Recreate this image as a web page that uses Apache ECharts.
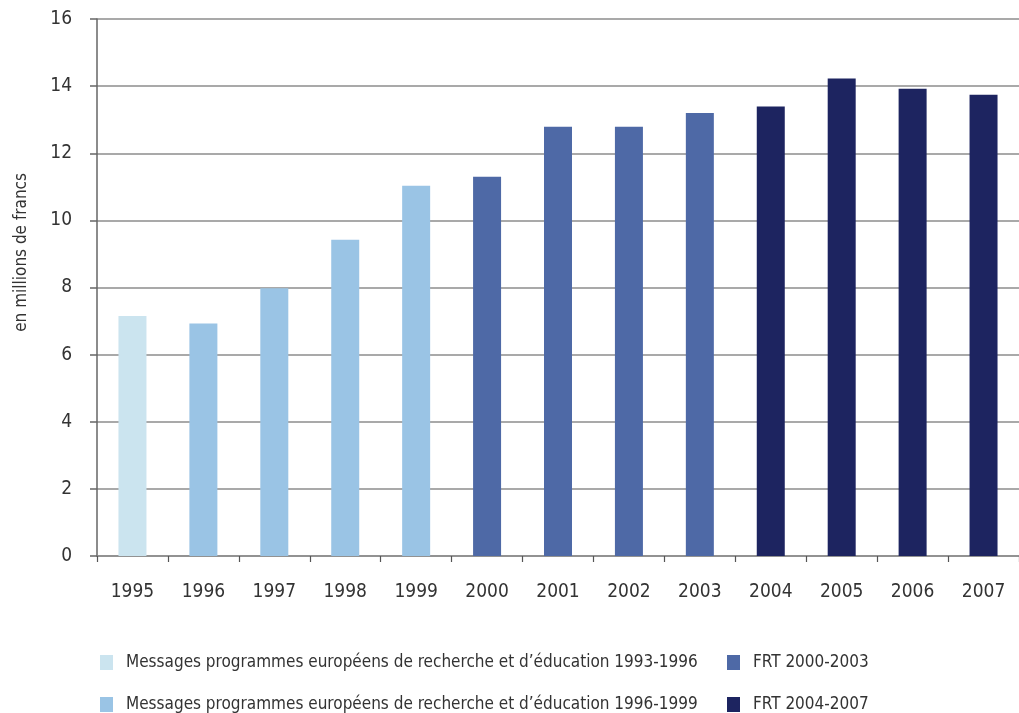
<!DOCTYPE html>
<html>
<head>
<meta charset="utf-8">
<script src="https://cdn.jsdelivr.net/npm/echarts@6/dist/echarts.min.js"></script>
<style>
  html, body { margin: 0; padding: 0; background: #ffffff; }
  #chart { width: 1019px; height: 713px; }
</style>
</head>
<body>
<div id="chart"></div>
<script>
// Years on the horizontal axis
const years = ['1995', '1996', '1997', '1998', '1999', '2000', '2001', '2002', '2003', '2004', '2005', '2006', '2007'];

// Funding in millions of francs, one series per programme period ('-' = no bar)
const msg9396 = [7.15, '-', '-', '-', '-', '-', '-', '-', '-', '-', '-', '-', '-'];
const msg9699 = ['-', 6.93, 7.98, 9.42, 11.03, '-', '-', '-', '-', '-', '-', '-', '-'];
const frt0003 = ['-', '-', '-', '-', '-', 11.3, 12.79, 12.79, 13.2, '-', '-', '-', '-'];
const frt0407 = ['-', '-', '-', '-', '-', '-', '-', '-', '-', 13.39, 14.23, 13.92, 13.74];

const seriesNames = [
  'Messages programmes européens de recherche et d\u2019éducation 1993-1996',
  'Messages programmes européens de recherche et d\u2019éducation 1996-1999',
  'FRT 2000-2003',
  'FRT 2004-2007'
];
const seriesColors = ['#cbe4ef', '#9ac4e5', '#4e69a6', '#1d2460'];
const seriesData = [msg9396, msg9699, frt0003, frt0407];

const FONT = '"Liberation Sans Narrow", "Arial Narrow", "DejaVu Sans Condensed", sans-serif';

// One single-entry legend per item, laid out as a 2 x 2 block under the plot
const legendSlots = [
  { left: 95, top: 649 },
  { left: 95, top: 691 },
  { left: 722, top: 649 },
  { left: 722, top: 691 }
];

const chart = echarts.init(document.getElementById('chart'), null, { renderer: 'canvas' });

chart.setOption({
  backgroundColor: '#ffffff',
  animation: false,
  textStyle: { fontFamily: FONT },
  grid: { left: 97, top: 19, width: 930, height: 537, containLabel: false },
  xAxis: {
    type: 'category',
    data: years,
    boundaryGap: true,
    axisLine: { lineStyle: { color: '#8a8a8a', width: 1.5 } },
    axisTick: { show: true, alignWithLabel: false, length: 6, lineStyle: { color: '#555', width: 1.2 } },
    axisLabel: { color: '#333', fontSize: 19, margin: 27, fontFamily: FONT }
  },
  yAxis: {
    type: 'value',
    min: 0,
    max: 16,
    interval: 2,
    axisLine: { show: true, lineStyle: { color: '#666', width: 1.5 } },
    axisTick: { show: true, length: 7, lineStyle: { color: '#666', width: 1.5 } },
    splitLine: { show: true, lineStyle: { color: '#8c8c8c', width: 1.5 } },
    axisLabel: { color: '#333', fontSize: 19, margin: 25, fontFamily: FONT }
  },
  legend: seriesNames.map((name, i) => ({
    orient: 'horizontal',
    left: legendSlots[i].left,
    top: legendSlots[i].top,
    itemWidth: 13,
    itemHeight: 15,
    icon: 'rect',
    data: [name],
    textStyle: { color: '#333', fontSize: 17, fontFamily: FONT, padding: [0, 0, 0, 8] }
  })),
  graphic: [
    {
      type: 'text',
      left: 13,
      top: 173,
      rotation: Math.PI / 2,
      style: {
        text: 'en millions de francs',
        fill: '#333',
        font: '17px ' + FONT
      }
    }
  ],
  series: seriesData.map((d, i) => ({
    name: seriesNames[i],
    type: 'bar',
    stack: 'total',
    barWidth: 28,
    data: d,
    itemStyle: { color: seriesColors[i] }
  }))
});
</script>
</body>
</html>
